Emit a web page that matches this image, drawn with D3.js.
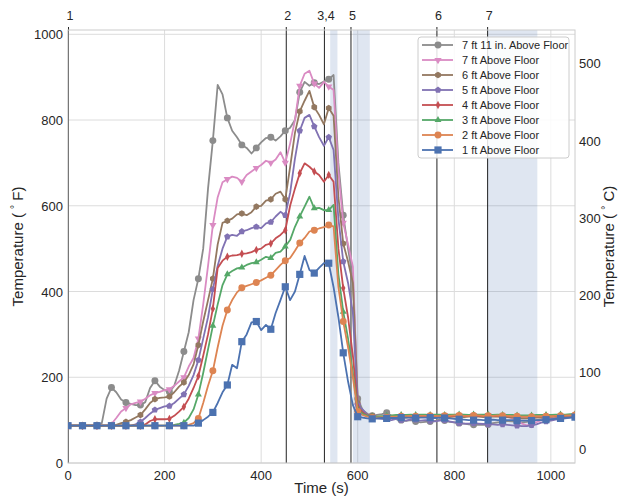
<!DOCTYPE html>
<html>
<head>
<meta charset="utf-8">
<script src="https://cdn.jsdelivr.net/npm/d3@7"></script>
<style>
  body { margin: 0; background: #fff; }
  text { font-family: "Liberation Sans", Arial, sans-serif; fill: #262626; }
</style>
</head>
<body>
<div id="chart"></div>
<script>
// thermocouple array temperatures, sampled every 10 s
var times = d3.range(0, 1051, 10);

var seriesNames = ["7 ft 11 in. Above Floor", "7 ft Above Floor", "6 ft Above Floor", "5 ft Above Floor",
  "4 ft Above Floor", "3 ft Above Floor", "2 ft Above Floor", "1 ft Above Floor"];

var tc7ft11 = [87,87,87,87,87,87,88,93,150,176,
  165,148,141,138,135,135,142,175,192,178,
  170,166,180,215,260,305,380,430,500,640,
  752,882,860,805,775,760,742,735,722,735,
  748,758,760,752,762,775,782,800,865,889,
  880,887,884,890,895,905,700,578,500,430,
  150,124,115,110,112,114,117,110,102,100,98,
  100,97,95,96,97,98,102,99,96,95,
  93,92,90,89,89,89,90,93,95,96,
  98,97,96,95,96,98,100,102,103,104,
  105,106,107,107,108];

var tc7ft = [87,87,87,87,87,87,87,87,87,91,
  105,120,128,137,140,143,150,158,163,166,
  170,172,180,190,200,225,245,290,370,460,
  555,620,655,662,668,665,656,672,680,688,
  695,705,700,708,725,700,745,800,880,908,
  915,885,875,889,878,870,680,560,510,458,
  135,118,112,109,108,107,108,107,109,108,108,
  109,108,110,110,109,108,110,111,110,112,
  112,111,112,112,111,112,112,111,112,110,
  108,104,98,92,88,90,95,100,104,106,
  108,109,110,111,112];

var tc6ft = [87,87,87,87,87,87,87,87,87,87,
  89,93,96,100,106,112,125,140,149,152,
  153,155,165,178,188,205,230,275,330,380,
  430,510,560,565,570,580,582,578,585,598,
  600,612,615,628,633,615,690,770,820,845,
  868,830,812,790,828,810,620,512,470,420,
  140,120,113,110,108,108,107,106,107,106,106,
  107,106,107,108,107,106,108,108,107,108,
  108,107,108,108,108,107,108,108,108,107,
  107,106,105,104,104,105,106,106,107,108,
  108,109,110,110,111];

var tc5ft = [87,87,87,87,87,87,87,87,87,87,
  87,87,87,87,90,96,105,115,124,128,
  132,133,140,150,160,180,205,240,290,340,
  405,460,500,528,532,530,540,543,548,551,
  548,559,562,575,586,578,630,710,775,805,
  812,785,760,740,760,730,570,470,420,350,
  135,125,112,106,104,103,102,100,103,100,99,
  102,101,99,100,98,97,99,100,97,95,
  93,92,92,93,92,91,90,90,89,90,
  89,88,87,86,86,88,90,94,97,99,
  101,103,104,106,108];

var tc4ft = [87,87,87,87,87,87,87,87,87,87,
  87,87,87,87,87,87,90,98,102,102,
  102,103,110,120,131,150,175,203,250,300,
  360,455,472,481,484,485,488,489,492,497,
  500,509,512,524,532,543,600,640,676,699,
  691,680,672,656,672,656,500,408,340,250,
  130,118,110,107,106,105,106,107,107,108,107,
  108,109,108,109,110,109,110,110,109,110,
  110,110,110,111,110,110,111,110,110,110,
  109,109,108,108,108,108,109,109,109,109,
  110,110,111,111,112];

var tc3ft = [87,87,87,87,87,87,87,87,87,87,
  87,87,87,87,87,87,87,87,87,87,
  87,88,89,91,94,105,125,160,210,265,
  320,370,415,440,448,454,456,462,466,468,
  474,481,478,490,493,505,520,551,575,598,
  621,594,595,590,590,602,440,353,290,210,
  125,115,110,108,108,109,110,111,112,112,112,
  113,112,113,113,112,113,113,112,113,113,
  113,113,112,113,113,113,113,112,113,112,
  112,112,111,111,111,111,112,112,112,112,
  113,113,113,114,114];

var tc2ft = [87,87,87,87,87,87,87,87,87,87,
  87,87,87,87,87,87,87,87,87,87,
  87,87,87,87,87,89,93,104,140,180,
  215,270,320,357,380,398,409,413,417,421,
  426,432,438,450,462,472,478,495,513,525,
  540,543,547,550,555,552,410,330,270,200,
  120,112,108,106,106,107,107,108,108,109,109,
  110,109,110,110,110,110,109,110,110,111,
  111,110,110,111,111,110,110,110,111,110,
  110,109,109,108,108,108,109,109,109,109,
  110,110,111,111,112];

var tc1ft = [87,87,87,87,87,87,87,87,87,87,
  87,87,87,87,87,87,87,87,87,87,
  87,87,87,87,87,87,87,93,100,108,
  118,140,165,182,229,221,283,300,328,330,
  310,322,312,350,380,411,380,400,440,483,
  450,443,455,466,466,410,340,257,190,135,
  108,106,104,103,104,105,104,105,105,106,106,
  106,105,106,106,106,105,106,105,104,103,
  102,101,100,100,101,100,100,101,100,100,
  100,100,99,99,99,99,100,100,101,102,
  103,104,105,106,107];

// event markers along the top and shaded periods
var eventTimes = [0, 451, 530, 585, 763, 868];
var eventLabels = ["1", "2", "3,4", "5", "6", "7"];
var spanStarts = [543, 590, 868];
var spanEnds = [558, 625, 972];

var xTicks = [0, 200, 400, 600, 800, 1000];
var yTicks = [0, 200, 400, 600, 800, 1000];
var cTicks = [0, 100, 200, 300, 400, 500];

var seriesValues = [tc7ft11, tc7ft, tc6ft, tc5ft, tc4ft, tc3ft, tc2ft, tc1ft];
var colors = ["#8c8c8c", "#da8bc3", "#937860", "#8172b3", "#c44e52", "#55a868", "#dd8452", "#4c72b0"];
var markerTypes = ["circle", "tridown", "hexagon", "pentagon", "thindiamond", "triup", "circle", "square"];

var W = 618, H = 497;
var margin = {top: 30, right: 43, bottom: 34, left: 68};
var width = W - margin.left - margin.right;
var height = H - margin.top - margin.bottom;

var x = d3.scaleLinear().domain([0, 1050]).range([0, width]);
var y = d3.scaleLinear().domain([0, 1010]).range([height, 0]);
var yC = d3.scaleLinear().domain([(0 - 32) / 1.8, (1010 - 32) / 1.8]).range([height, 0]);

var svg = d3.select("#chart").append("svg")
  .attr("width", W).attr("height", H);
var g = svg.append("g")
  .attr("transform", "translate(" + margin.left + "," + margin.top + ")");

g.append("defs").append("clipPath").attr("id", "clipper")
  .append("rect").attr("width", width).attr("height", height);

// grid
g.append("g").selectAll("line").data(xTicks).enter().append("line")
  .attr("x1", function(d) { return x(d); }).attr("x2", function(d) { return x(d); })
  .attr("y1", 0).attr("y2", height)
  .attr("stroke", "#dcdcdc").attr("stroke-width", 1);
g.append("g").selectAll("line").data(yTicks).enter().append("line")
  .attr("y1", function(d) { return y(d); }).attr("y2", function(d) { return y(d); })
  .attr("x1", 0).attr("x2", width)
  .attr("stroke", "#dcdcdc").attr("stroke-width", 1);

// shaded spans
g.append("g").selectAll("rect").data(spanStarts).enter().append("rect")
  .attr("x", function(d) { return x(d); })
  .attr("width", function(d, i) { return x(spanEnds[i]) - x(d); })
  .attr("y", 0).attr("height", height)
  .attr("fill", "#4c72b0").attr("fill-opacity", 0.18);

// event lines
g.append("g").selectAll("line").data(eventTimes).enter().append("line")
  .attr("x1", function(d) { return x(d) + 0.5; }).attr("x2", function(d) { return x(d) + 0.5; })
  .attr("y1", -3).attr("y2", height)
  .attr("stroke", "#222").attr("stroke-width", 1);
g.append("g").selectAll("text").data(eventLabels).enter().append("text")
  .attr("x", function(d, i) { return x(eventTimes[i]) + 2; })
  .attr("y", -10)
  .style("text-anchor", "middle")
  .style("font-size", "12.5px")
  .text(function(d) { return d; });

// frame
g.append("rect").attr("width", width).attr("height", height)
  .attr("fill", "none").attr("stroke", "#cccccc").attr("stroke-width", 1);

function polygon(n, r, rot) {
  var pts = d3.range(n).map(function(k) {
    var a = rot + k * 2 * Math.PI / n;
    return [r * Math.sin(a), -r * Math.cos(a)];
  });
  return "M" + pts.join("L") + "Z";
}

function markerPath(type) {
  if (type == "circle") return d3.symbol(d3.symbolCircle, 38)();
  if (type == "square") return "M-3.6,-3.6L3.6,-3.6L3.6,3.6L-3.6,3.6Z";
  if (type == "triup") return polygon(3, 4, 0);
  if (type == "tridown") return polygon(3, 4.2, Math.PI);
  if (type == "hexagon") return polygon(6, 3.3, 0);
  if (type == "pentagon") return polygon(5, 3.4, 0);
  if (type == "thindiamond") return "M0,-4.2L2.2,0L0,4.2L-2.2,0Z";
}

var valueline = d3.line()
  .x(function(d) { return x(d[0]); })
  .y(function(d) { return y(d[1]); });

var plot = g.append("g").attr("clip-path", "url(#clipper)");

seriesValues.forEach(function(vals, s) {
  var pts = times.map(function(t, i) { return [t, vals[i]]; });
  plot.append("path")
    .datum(pts)
    .attr("fill", "none")
    .attr("stroke", colors[s])
    .attr("stroke-width", 1.8)
    .attr("stroke-linejoin", "round")
    .attr("d", valueline);
  plot.append("g").selectAll("path")
    .data(pts.filter(function(d, i) { return i % 3 == 0; }))
    .enter().append("path")
    .attr("transform", function(d) { return "translate(" + x(d[0]) + "," + y(d[1]) + ")"; })
    .attr("d", markerPath(markerTypes[s]))
    .attr("fill", colors[s]);
});

// axes labels
g.append("g").selectAll("text").data(xTicks).enter().append("text")
  .attr("x", function(d) { return x(d); }).attr("y", height + 17)
  .style("text-anchor", "middle").style("font-size", "13px")
  .text(function(d) { return d; });
g.append("g").selectAll("text").data(yTicks).enter().append("text")
  .attr("x", -5).attr("y", function(d) { return y(d) + 5; })
  .style("text-anchor", "end").style("font-size", "13px")
  .text(function(d) { return d; });
g.append("g").selectAll("text").data(cTicks).enter().append("text")
  .attr("x", width + 4).attr("y", function(d) { return yC(d) + 5; })
  .style("text-anchor", "start").style("font-size", "13px")
  .text(function(d) { return d; });

g.append("text")
  .attr("x", width / 2).attr("y", height + 30)
  .style("text-anchor", "middle").style("font-size", "15px")
  .text("Time (s)");

var yl = g.append("text")
  .attr("transform", "translate(" + (-45) + "," + (height / 2) + ") rotate(-90)")
  .style("text-anchor", "middle").style("font-size", "15px");
yl.append("tspan").text("Temperature ( ");
yl.append("tspan").attr("dy", -5).style("font-size", "10px").text("\u00b0");
yl.append("tspan").attr("dy", 5).text(" F)");

var yr = g.append("text")
  .attr("transform", "translate(" + (width + 39) + "," + (height / 2) + ") rotate(-90)")
  .style("text-anchor", "middle").style("font-size", "15px");
yr.append("tspan").text("Temperature ( ");
yr.append("tspan").attr("dy", -5).style("font-size", "10px").text("\u00b0");
yr.append("tspan").attr("dy", 5).text(" C)");

// legend
var legend = g.append("g").attr("transform", "translate(" + (418 - margin.left) + "," + (37 - margin.top) + ")");
legend.append("rect")
  .attr("width", 151).attr("height", 121).attr("rx", 3)
  .attr("fill", "#fff").attr("fill-opacity", 0.85)
  .attr("stroke", "#cccccc");
var item = legend.selectAll("g.item").data(seriesNames).enter().append("g")
  .attr("class", "item")
  .attr("transform", function(d, i) { return "translate(0," + (8 + i * 15) + ")"; });
item.append("line")
  .attr("x1", 4).attr("x2", 35)
  .attr("stroke", function(d, i) { return colors[i]; })
  .attr("stroke-width", 1.8);
item.append("path")
  .attr("transform", "translate(20,0)")
  .attr("d", function(d, i) { return markerPath(markerTypes[i]); })
  .attr("fill", function(d, i) { return colors[i]; });
item.append("text")
  .attr("x", 44).attr("y", 4)
  .style("font-size", "11px")
  .text(function(d) { return d; });
</script>
</body>
</html>
